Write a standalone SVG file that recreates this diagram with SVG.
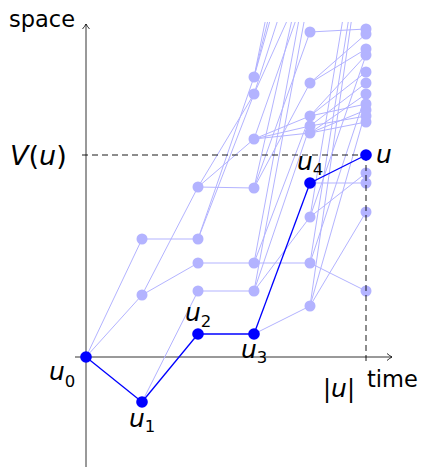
<svg xmlns="http://www.w3.org/2000/svg" width="422" height="467" viewBox="0 0 422 467">
<defs>
<clipPath id="clipTop"><rect x="0" y="22" width="422" height="445"/></clipPath>
<marker id="arr" markerWidth="10" markerHeight="10" refX="6" refY="4" orient="auto" markerUnits="userSpaceOnUse">
<path d="M1,0.5 Q4,3 6,4 Q4,5 1,7.5" fill="none" stroke="#000" stroke-width="0.8"/>
</marker>
</defs>
<style>
.light line{stroke:#b3b3ff;stroke-width:1}
.blue line{stroke:#0000ff;stroke-width:1.3}
.ln{fill:#b3b3ff}
.bn{fill:#0000ff}
.axis{stroke:#000;stroke-width:0.8;fill:none}
.dash{stroke:#000;stroke-width:0.9;stroke-dasharray:6 4;fill:none}
.lab{font-family:"DejaVu Sans",sans-serif;font-size:22.5px;fill:#000}
.mi{font-family:"DejaVu Sans",sans-serif;font-style:italic;font-size:25px;fill:#000}
.sub{font-style:normal;font-size:16.5px}
</style>

<g id="axes">
<line class="axis" x1="86" y1="467" x2="86" y2="24" marker-end="url(#arr)"/>
<line class="axis" x1="75" y1="357" x2="392" y2="357" marker-end="url(#arr)"/>
</g>

<g id="connectors">
<g class="light" clip-path="url(#clipTop)">
<line x1="86" y1="357" x2="142" y2="239"/>
<line x1="86" y1="357" x2="142" y2="295"/>
<line x1="142" y1="239" x2="198" y2="239"/>
<line x1="142" y1="295" x2="198" y2="263"/>
<line x1="142" y1="295" x2="198" y2="187"/>
<line x1="142" y1="402" x2="198" y2="291"/>
<line x1="198" y1="187" x2="254" y2="188"/>
<line x1="198" y1="187" x2="254" y2="139"/>
<line x1="198" y1="187" x2="254" y2="94"/>
<line x1="198" y1="239" x2="254" y2="77"/>
<line x1="198" y1="239" x2="254" y2="94"/>
<line x1="198" y1="263" x2="254" y2="263"/>
<line x1="198" y1="291" x2="254" y2="291"/>
<line x1="254" y1="77" x2="310" y2="-200"/>
<line x1="254" y1="77" x2="310" y2="-150"/>
<line x1="254" y1="77" x2="310" y2="-120"/>
<line x1="254" y1="94" x2="310" y2="-80"/>
<line x1="254" y1="94" x2="310" y2="-30"/>
<line x1="254" y1="139" x2="310" y2="-20"/>
<line x1="254" y1="139" x2="310" y2="116"/>
<line x1="254" y1="139" x2="310" y2="126"/>
<line x1="254" y1="139" x2="310" y2="133"/>
<line x1="254" y1="188" x2="310" y2="32"/>
<line x1="254" y1="188" x2="310" y2="83"/>
<line x1="254" y1="188" x2="310" y2="-60"/>
<line x1="254" y1="263" x2="310" y2="263"/>
<line x1="254" y1="263" x2="310" y2="116"/>
<line x1="254" y1="263" x2="310" y2="-40"/>
<line x1="254" y1="291" x2="310" y2="217"/>
<line x1="254" y1="291" x2="310" y2="126"/>
<line x1="254" y1="291" x2="310" y2="-10"/>
<line x1="254" y1="334" x2="310" y2="306"/>
<line x1="310" y1="32" x2="366" y2="29"/>
<line x1="310" y1="83" x2="366" y2="34"/>
<line x1="310" y1="83" x2="366" y2="49"/>
<line x1="310" y1="116" x2="366" y2="55"/>
<line x1="310" y1="116" x2="366" y2="72"/>
<line x1="310" y1="116" x2="366" y2="104"/>
<line x1="310" y1="126" x2="366" y2="83"/>
<line x1="310" y1="126" x2="366" y2="116"/>
<line x1="310" y1="133" x2="366" y2="94"/>
<line x1="310" y1="133" x2="366" y2="110"/>
<line x1="310" y1="133" x2="366" y2="122"/>
<line x1="310" y1="183" x2="366" y2="183"/>
<line x1="310" y1="217" x2="366" y2="173"/>
<line x1="310" y1="217" x2="366" y2="55"/>
<line x1="310" y1="217" x2="366" y2="-120"/>
<line x1="310" y1="263" x2="366" y2="291"/>
<line x1="310" y1="263" x2="366" y2="94"/>
<line x1="310" y1="263" x2="366" y2="-90"/>
<line x1="310" y1="306" x2="366" y2="212"/>
<line x1="310" y1="306" x2="366" y2="110"/>
<line x1="310" y1="306" x2="366" y2="-80"/>
</g>
<g class="blue">
<line x1="86" y1="357" x2="142" y2="402"/>
<line x1="142" y1="402" x2="198" y2="334"/>
<line x1="198" y1="334" x2="254" y2="334"/>
<line x1="254" y1="334" x2="310" y2="183"/>
<line x1="310" y1="183" x2="366" y2="155"/>
</g>
</g>

<g id="light-nodes" class="ln">
<circle cx="142" cy="239" r="5.5"/>
<circle cx="142" cy="295" r="5.5"/>
<circle cx="198" cy="187" r="5.5"/>
<circle cx="198" cy="239" r="5.5"/>
<circle cx="198" cy="263" r="5.5"/>
<circle cx="198" cy="291" r="5.5"/>
<circle cx="254" cy="77" r="5.5"/>
<circle cx="254" cy="94" r="5.5"/>
<circle cx="254" cy="139" r="5.5"/>
<circle cx="254" cy="188" r="5.5"/>
<circle cx="254" cy="263" r="5.5"/>
<circle cx="254" cy="291" r="5.5"/>
<circle cx="310" cy="32" r="5.5"/>
<circle cx="310" cy="83" r="5.5"/>
<circle cx="310" cy="116" r="5.5"/>
<circle cx="310" cy="126" r="5.5"/>
<circle cx="310" cy="133" r="5.5"/>
<circle cx="310" cy="217" r="5.5"/>
<circle cx="310" cy="263" r="5.5"/>
<circle cx="310" cy="306" r="5.5"/>
<circle cx="366" cy="29" r="5.5"/>
<circle cx="366" cy="34" r="5.5"/>
<circle cx="366" cy="49" r="5.5"/>
<circle cx="366" cy="55" r="5.5"/>
<circle cx="366" cy="72" r="5.5"/>
<circle cx="366" cy="83" r="5.5"/>
<circle cx="366" cy="94" r="5.5"/>
<circle cx="366" cy="104" r="5.5"/>
<circle cx="366" cy="110" r="5.5"/>
<circle cx="366" cy="116" r="5.5"/>
<circle cx="366" cy="122" r="5.5"/>
<circle cx="366" cy="173" r="5.5"/>
<circle cx="366" cy="183" r="5.5"/>
<circle cx="366" cy="212" r="5.5"/>
<circle cx="366" cy="291" r="5.5"/>
</g>

<g id="guides">
<line class="dash" x1="82" y1="155" x2="366" y2="155"/>
<line class="dash" x1="366" y1="155" x2="366" y2="365"/>
</g>

<g id="u0" class="bn"><circle cx="86" cy="357" r="5.8"/></g>
<g id="u1" class="bn"><circle cx="142" cy="402" r="5.8"/></g>
<g id="u2" class="bn"><circle cx="198" cy="334" r="5.8"/></g>
<g id="u3" class="bn"><circle cx="254" cy="334" r="5.8"/></g>
<g id="u4" class="bn"><circle cx="310" cy="183" r="5.8"/></g>
<g id="u" class="bn"><circle cx="366" cy="155" r="5.8"/></g>

<g id="labels">
<text class="lab" x="9" y="27">space</text>
<text class="lab" x="367" y="387">time</text>
<text x="10" y="165" font-family="DejaVu Sans, sans-serif" font-size="27" fill="#000"><tspan font-style="italic">V</tspan>(<tspan font-style="italic">u</tspan>)</text>
<text class="mi" x="49" y="380">u<tspan class="sub" dy="7">0</tspan></text>
<text class="mi" x="129" y="427">u<tspan class="sub" dy="5">1</tspan></text>
<text class="mi" x="185" y="321">u<tspan class="sub" dy="6">2</tspan></text>
<text class="mi" x="241" y="358">u<tspan class="sub" dy="5">3</tspan></text>
<text class="mi" x="297" y="170">u<tspan class="sub" dy="5">4</tspan></text>
<text class="mi" x="376" y="163">u</text>
<text x="323" y="397" font-family="DejaVu Sans, sans-serif" font-size="24" fill="#000">|<tspan font-style="italic" font-size="25">u</tspan>|</text>
</g>
</svg>
